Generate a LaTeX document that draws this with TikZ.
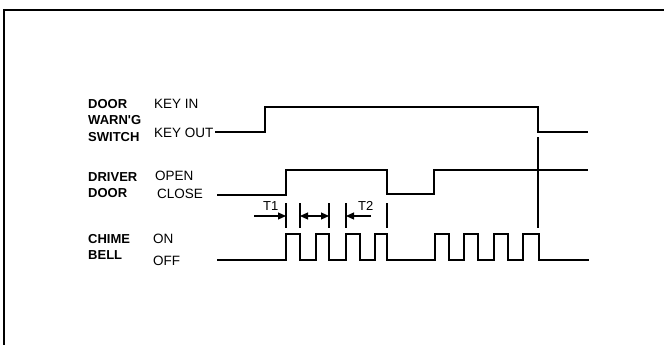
\documentclass[tikz,border=0pt]{standalone}
\usepackage{fontspec}
\setmainfont{Liberation Sans}[Ligatures=TeXOff]
\usetikzlibrary{arrows.meta}
\tikzset{
  lbl/.style={anchor=base west, inner sep=0pt, font=\fontsize{13.5}{16}\selectfont},
  blbl/.style={anchor=base west, inner sep=0pt, font=\fontsize{13}{15}\selectfont\bfseries},
  tlbl/.style={anchor=base west, inner sep=0pt, font=\fontsize{13}{15}\selectfont},
  sig/.style={line width=1.8pt, line join=miter},
  tick/.style={line width=1.5pt},
  frame/.style={line width=2.2pt},
  dim/.style={line width=1.2pt, -{Triangle[length=8pt,width=7pt]}},
  ddim/.style={line width=1.2pt, {Triangle[length=8pt,width=7pt]}-{Triangle[length=8pt,width=7pt]}}
}
\begin{document}
\begin{tikzpicture}[x=1pt,y=-1pt]
\useasboundingbox (0,0) rectangle (664,345);
% frame (top and left edges)
\draw[frame] (4,345) -- (4,10) -- (664,10);

% left labels
\node[blbl] (l1) at (88,108) {DOOR};
\node[blbl] (l2) at (88,124) {WARN'G};
\node[blbl] (l3) at (88,141) {SWITCH};
\node[blbl] (l4) at (88,181) {DRIVER};
\node[blbl] (l5) at (88,197) {DOOR};
\node[blbl] (l6) at (88,243) {CHIME};
\node[blbl] (l7) at (88,259) {BELL};

% state labels
\node[lbl] (s1) at (154,108) {KEY IN};
\node[lbl] (s2) at (154,137) {KEY OUT};
\node[lbl] (s3) at (155,180) {OPEN};
\node[lbl] (s4) at (157,198) {CLOSE};
\node[lbl] (s5) at (153,243) {ON};
\node[lbl] (s6) at (153,265) {OFF};

% key switch waveform
\draw[sig] (215,132) -- (265,132) -- (265,107) -- (538,107) -- (538,132) -- (588,132);
% driver door waveform
\draw[sig] (217,195) -- (286,195) -- (286,170) -- (387,170) -- (387,194) -- (434,194) -- (434,170) -- (588,170);
% chime waveform
\draw[sig] (217,260) -- (286,260) -- (286,234) -- (300,234) -- (300,260) -- (316,260) -- (316,234) -- (329,234) -- (329,260)
  -- (346,260) -- (346,234) -- (360,234) -- (360,260) -- (375,260) -- (375,234) -- (387,234) -- (387,260)
  -- (435,260) -- (435,234) -- (449,234) -- (449,260) -- (464,260) -- (464,234) -- (478,234) -- (478,260)
  -- (494,260) -- (494,234) -- (508,234) -- (508,260) -- (523,260) -- (523,234) -- (539,234) -- (539,260) -- (589,260);

% vertical marker line
\draw[tick] (538,137) -- (538,228);

% ticks
\foreach \x in {286,300,329,346,387} \draw[tick] (\x,203) -- (\x,228);

% timing arrows
\coordinate (a1) at (254,216);
\coordinate (b1) at (286,216);
\coordinate (a2) at (300,216);
\coordinate (b2) at (329,216);
\coordinate (a3) at (371,216);
\coordinate (b3) at (346,216);
\draw[dim] (a1) -- (b1);
\draw[ddim] (a2) -- (b2);
\draw[dim] (a3) -- (b3);
\node[tlbl] (T1) at (263,210) {T1};
\node[tlbl] (T2) at (358,210) {T2};
\end{tikzpicture}
\end{document}
